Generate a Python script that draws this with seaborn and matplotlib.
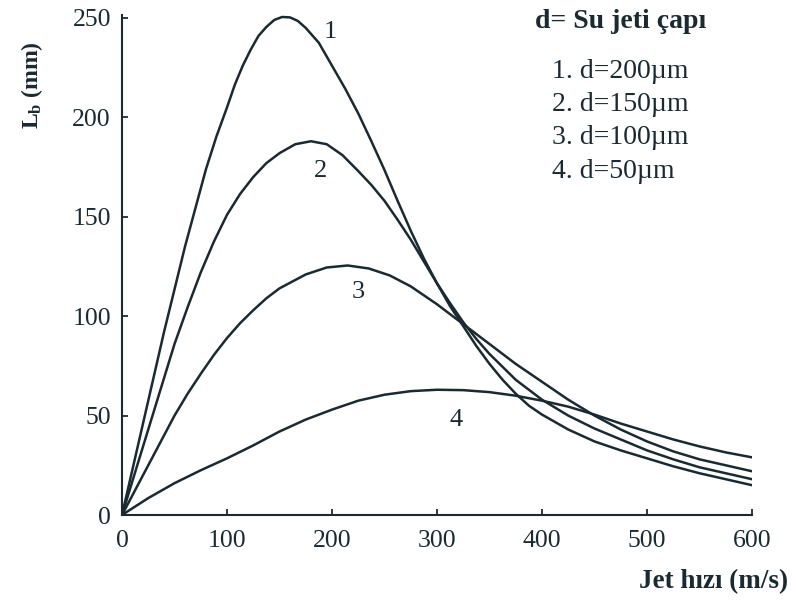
import matplotlib
matplotlib.use("Agg")
import matplotlib.pyplot as plt
import seaborn as sns
import pandas as pd

# ---- data ----
x_d200 = [0, 20, 40, 60, 80, 90, 100, 107.5, 115, 122.5, 130, 137.5, 145, 152.5, 160,
          167.5, 175, 187.5, 200, 212.5, 225, 237.5, 250, 262.5, 275, 287.5, 300,
          312.5, 325, 337.5, 350, 362.5, 375, 387.5, 400, 425, 450, 475, 500, 525,
          550, 575, 600]
L_d200 = [0, 46, 92, 135, 174, 190.5, 205, 216.5, 226, 234, 241, 245.5, 249, 250.5, 250.3,
          248.5, 245, 237.5, 226, 214.5, 202, 188, 173.5, 158, 143, 129, 116.5,
          105, 95, 85, 76, 68, 61, 55, 50.5, 43, 37, 32.5, 28.5, 24.5,
          21, 18, 15]

x_d150 = [0, 25, 50, 62.5, 75, 87.5, 100, 112.5, 125, 137.5, 150, 165, 180, 195, 210,
          225, 237.5, 250, 262.5, 275, 287.5, 300, 312.5, 325, 337.5, 350, 375, 400,
          425, 450, 475, 500, 525, 550, 575, 600]
L_d150 = [0, 43, 86, 104.5, 122, 137.5, 151, 161.5, 170, 177, 182, 186.5, 188, 186.5, 181,
          173, 166, 158, 148.5, 138.5, 127.5, 116.5, 106.5, 97, 88.5, 81, 68, 58,
          50, 43.5, 38, 32.5, 28, 24, 21, 18]

x_d100 = [0, 25, 50, 62.5, 75, 87.5, 100, 112.5, 125, 137.5, 150, 175, 195, 215, 235,
          255, 275, 300, 325, 350, 375, 400, 425, 450, 475, 500, 525, 550, 575, 600]
L_d100 = [0, 25, 50, 61, 71, 80.5, 89, 96.5, 103, 109, 114, 121, 124.5, 125.5, 124,
          120.5, 115, 106, 96, 86, 76, 67, 58, 50, 43, 37, 32, 28, 25, 22]

x_d50 = [0, 25, 50, 75, 100, 125, 150, 175, 200, 225, 250, 275, 300, 325, 350, 375,
         400, 425, 450, 475, 500, 525, 550, 575, 600]
L_d50 = [0, 8.5, 16, 22.5, 28.5, 35, 42, 48, 53, 57.5, 60.5, 62.3, 63, 62.8, 61.8, 60,
         57.5, 54.5, 50.5, 46, 42, 38, 34.5, 31.5, 29]

curve_ids = ["1", "2", "3", "4"]
legend_title = "d= Su jeti çapı"
legend_items = ["1. d=200µm", "2. d=150µm", "3. d=100µm", "4. d=50µm"]
x_ticks = [0, 100, 200, 300, 400, 500, 600]
y_ticks = [0, 50, 100, 150, 200, 250]
x_label = "Jet hızı (m/s)"
y_label = r"L$_\mathbf{b}$ (mm)"

frames = []
for cid, xs, ys in zip(curve_ids, [x_d200, x_d150, x_d100, x_d50],
                       [L_d200, L_d150, L_d100, L_d50]):
    frames.append(pd.DataFrame({"v": xs, "L": ys, "curve": cid}))
df = pd.concat(frames, ignore_index=True)

# ---- style ----
sns.set_theme(style="ticks")
ink = "#1b2a31"
plt.rcParams["font.family"] = ["Liberation Serif", "DejaVu Serif"]
plt.rcParams["mathtext.fontset"] = "custom"
plt.rcParams["mathtext.rm"] = "Liberation Serif"
plt.rcParams["mathtext.bf"] = "Liberation Serif:bold"
plt.rcParams["mathtext.it"] = "Liberation Serif:italic"

fig = plt.figure(figsize=(7.92, 6.06), dpi=100)
ax = fig.add_axes([122 / 792, 91 / 606, 630 / 792, 500 / 606])

sns.lineplot(data=df, x="v", y="L", hue="curve", units="curve", estimator=None,
             sort=False, palette=[ink] * 4, legend=False, linewidth=1.8, ax=ax)

ax.set_xlim(0, 600)
ax.set_ylim(0, 251.5)
ax.set_xticks(x_ticks)
ax.set_yticks(y_ticks)
ax.tick_params(direction="in", length=4.5, width=1.3, colors=ink, labelsize=18.5,
               labelcolor=ink)
ax.tick_params(axis="x", pad=11)
ax.tick_params(axis="y", pad=8)
for s in ["top", "right"]:
    ax.spines[s].set_visible(False)
for s in ["left", "bottom"]:
    ax.spines[s].set_color(ink)
    ax.spines[s].set_linewidth(1.5)
ax.set_xlabel("")
ax.set_ylabel("")

# curve number labels
label_pos = {"1": (198, 243), "2": (189, 173), "3": (225, 112), "4": (318, 48)}
for cid in curve_ids:
    px, py = label_pos[cid]
    ax.text(px, py, cid, fontsize=19, color=ink, ha="center", va="center")

# legend block
fig.text(535 / 792, 1 - 22 / 606, legend_title, fontsize=20, fontweight="bold",
         color=ink, ha="left", va="center")
for i, item in enumerate(legend_items):
    fig.text(552 / 792, 1 - (72 + 33 * i) / 606, item, fontsize=20, color=ink,
             ha="left", va="center")

# axis titles
fig.text(788 / 792, 1 - 582 / 606, x_label, fontsize=19.5, fontweight="bold",
         color=ink, ha="right", va="center")
fig.text(32 / 792, 1 - 85 / 606, y_label, fontsize=17, fontweight="bold",
         color=ink, ha="center", va="center", rotation=90)

fig.savefig("out.png", dpi=100, facecolor="white")
